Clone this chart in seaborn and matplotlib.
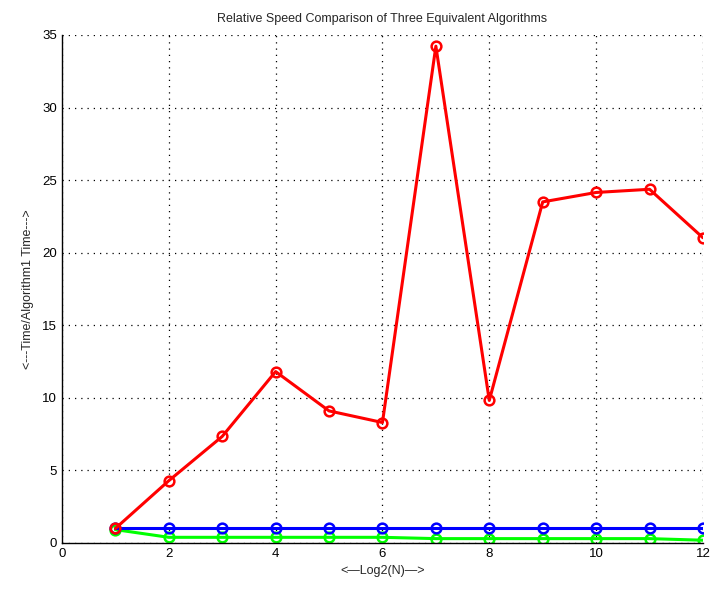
import pandas as pd
import seaborn as sns
from matplotlib import pyplot as plt

# dados
log2n = [1, 2, 3, 4, 5, 6, 7, 8, 9, 10, 11, 12]
alg1 = [1.0] * 12
alg2 = [1.0, 4.29, 7.34, 11.81, 9.1, 8.3, 34.23, 9.82, 23.5, 24.15, 24.37, 21.03]
alg3 = [0.92, 0.39, 0.39, 0.39, 0.39, 0.39, 0.3, 0.3, 0.3, 0.3, 0.3, 0.19]

sns.set_style("white")
plt.rcParams['font.family'] = ['Liberation Sans', 'DejaVu Sans']

fig = plt.figure(figsize=(7.12, 5.9), dpi=100)
ax = fig.add_axes([0.087, 0.0797, 0.9003, 0.861])

series = [(alg3, '#00ff00'), (alg1, '#0000ff'), (alg2, '#ff0000')]
for valores, cor in series:
    df = pd.DataFrame({'x': log2n, 'y': valores})
    sns.lineplot(data=df, x='x', y='y', ax=ax, color=cor, linewidth=2.2,
                 marker='o', markersize=7, markerfacecolor='none',
                 markeredgecolor=cor, markeredgewidth=1.8)

ax.set_xlim(0, 12)
ax.set_ylim(0, 35)
ax.set_xticks(range(0, 13, 2))
ax.set_yticks(range(0, 36, 5))
ax.grid(True, linestyle=(0, (1, 4)), color='black', linewidth=0.9)
for lado in ['top', 'right']:
    ax.spines[lado].set_visible(False)
for lado in ['left', 'bottom']:
    ax.spines[lado].set_color('black')
    ax.spines[lado].set_linewidth(1.0)
ax.tick_params(direction='in', length=4, labelsize=9.5, colors='black')

ax.set_title("Relative Speed Comparison of Three Equivalent Algorithms", fontsize=9, pad=9)
ax.set_xlabel("<\u2014Log2(N)\u2014>", fontsize=9)
ax.set_ylabel("<---Time/Algorithm1 Time--->", fontsize=9, labelpad=6)

fig.savefig("out.png", dpi=100)
